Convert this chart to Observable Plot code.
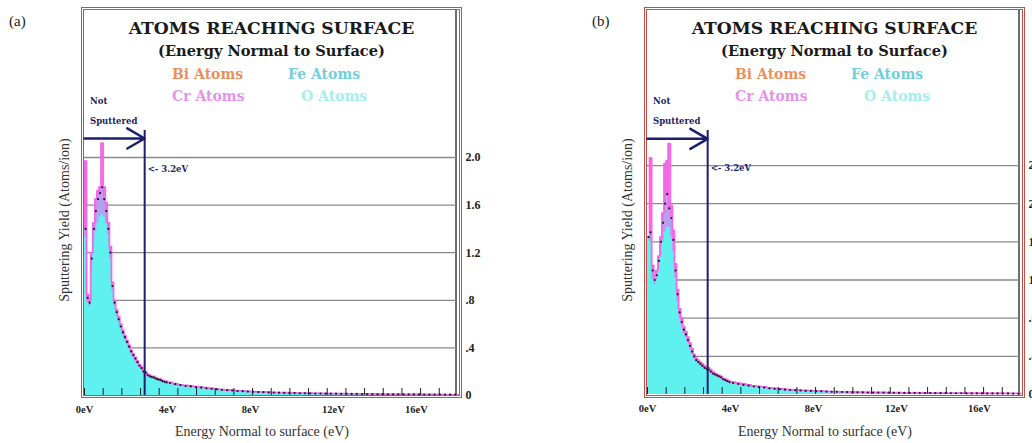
<!DOCTYPE html>
<html><head><meta charset="utf-8">
<script src="https://cdn.jsdelivr.net/npm/d3@7"></script>
<script src="https://cdn.jsdelivr.net/npm/@observablehq/plot@0.6"></script>
<style>
html,body{margin:0;padding:0;background:#fff;width:1032px;height:443px;overflow:hidden;position:relative;}
.panel{position:absolute;top:0;width:563px;height:443px;}
.plab{position:absolute;top:13px;font-family:"Liberation Serif",serif;font-size:15px;color:#222;}
.frame{position:absolute;left:81px;top:7px;width:381px;height:391px;box-sizing:border-box;border:3px double #bf4f4b;}
.rline{position:absolute;left:455px;top:10px;width:1.5px;height:386px;background:#6f6f6f;}
.t{position:absolute;left:81px;width:381px;text-align:center;font-family:"DejaVu Serif",serif;font-weight:bold;white-space:nowrap;}
.leg{position:absolute;font-family:"DejaVu Serif",serif;font-weight:bold;font-size:14px;white-space:nowrap;}
.ns{position:absolute;left:90px;font-family:"DejaVu Serif",serif;font-weight:bold;font-size:8.5px;color:#1d1d66;}
.ylab{position:absolute;left:-28px;top:212px;width:186px;text-align:center;transform:rotate(-90deg);font-family:"Liberation Serif",serif;font-size:14px;color:#333;white-space:nowrap;}
.xlab{position:absolute;left:120px;width:284px;top:424px;text-align:center;font-family:"Liberation Serif",serif;font-size:14px;color:#333;white-space:nowrap;}
.plot{position:absolute;left:84px;top:130px;}
</style>
</head><body>
<script>
// ---------- data ----------
const panelLabels = ["(a)", "(b)"];
const chartTitle = "ATOMS REACHING SURFACE";
const chartSubtitle = "(Energy Normal to Surface)";
const legendNames = ["Bi Atoms", "Fe Atoms", "Cr Atoms", "O Atoms"];
const legendColors = ["#e8915c", "#72cfd9", "#e592ea", "#a4eeee"];
const yAxisTitle = "Sputtering Yield (Atoms/ion)";
const xAxisTitle = "Energy Normal to surface (eV)";
const xTickValues = [0, 4, 8, 12, 16];
const xMinorTicks = [0, 0.9, 1.8, 2.7, 3.6, 4.5, 5.4, 6.3, 7.2, 8.1, 9, 9.9, 10.8, 11.7, 12.6, 13.5, 14.4, 15.3, 16.2, 17.1];
const yTicksA = [0, 0.4, 0.8, 1.2, 1.6, 2.0];
const yTicksB = [0, 0.4, 0.8, 1.2, 1.6, 2.0, 2.4];
const thresholdEv = [2.9];              // drawn position of the 3.2 eV line
const thresholdText = "<- 3.2eV";
const arrowLevelA = [2.16], arrowLevelB = [2.68];
const thresholdLabelLevelA = [1.9], thresholdLabelLevelB = [2.37];

// bin left edges (eV)
const energy = [0,0.1,0.2,0.3,0.4,0.5,0.6,0.7,0.8,0.9,1.0,1.1,1.2,1.3,1.4,1.5,1.6,1.7,1.8,1.9,
  2.0,2.1,2.2,2.3,2.4,2.5,2.6,2.7,2.8,2.9,3.0,3.1,3.2,3.3,3.4,3.5,3.6,3.7,3.8,3.9,
  4,4.25,4.5,4.75,5,5.25,5.5,5.75,6,6.25,6.5,6.75,7,7.25,7.5,7.75,8,8.25,8.5,8.75,
  9,9.25,9.5,9.75,10,10.25,10.5,10.75,11,11.25,11.5,11.75,12,12.25,12.5,12.75,13,13.25,13.5,13.75,
  14,14.25,14.5,14.75,15,15.25,15.5,15.75,16,16.25,16.5,16.75,17,17.25,17.5,17.75];
const energyEnd = 18;

// panel (a)
const crA = [1.97,0.85,0.80,1.20,1.45,1.65,1.72,1.75,2.12,1.75,1.62,1.45,1.25,0.95,0.80,0.72,0.66,0.60,0.55,0.50,
  0.46,0.42,0.38,0.35,0.32,0.29,0.26,0.24,0.21,0.20,0.18,0.17,0.16,0.16,0.15,0.14,0.14,0.13,0.12,0.12,
  0.11,0.10,0.09,0.085,0.08,0.075,0.07,0.065,0.06,0.055,0.05,0.048,0.045,0.04,0.038,0.035,0.033,0.03,0.03,0.028,
  0.026,0.025,0.024,0.023,0.022,0.02,0.02,0.019,0.018,0.018,0.017,0.016,0.016,0.015,0.015,0.014,0.014,0.013,0.013,0.012,
  0.012,0.012,0.011,0.011,0.011,0.01,0.01,0.01,0.01,0.009,0.009,0.009,0.009,0.008,0.008,0.008];
const feA = [1.40,0.82,0.78,1.15,1.40,1.55,1.65,1.70,1.75,1.65,1.55,1.40,1.20,0.92,0.78,0.70,0.64,0.58,0.53,0.49,
  0.45,0.41,0.37,0.34,0.31,0.28,0.25,0.23,0.20,0.19,0.17,0.16,0.155,0.15,0.14,0.135,0.13,0.12,0.115,0.11,
  0.105,0.095,0.088,0.08,0.076,0.07,0.066,0.06,0.056,0.052,0.048,0.045,0.042,0.038,0.036,0.033,0.031,0.029,0.028,0.026,
  0.025,0.024,0.022,0.021,0.02,0.019,0.019,0.018,0.017,0.017,0.016,0.015,0.015,0.014,0.014,0.013,0.013,0.012,0.012,0.011,
  0.011,0.011,0.01,0.01,0.01,0.009,0.009,0.009,0.009,0.008,0.008,0.008,0.008,0.007,0.007,0.007];
const oA = [1.33,0.78,0.75,1.05,1.30,1.38,1.45,1.50,1.52,1.50,1.45,1.35,1.15,0.88,0.75,0.67,0.62,0.56,0.51,0.47,
  0.43,0.39,0.35,0.32,0.29,0.27,0.24,0.22,0.19,0.18,0.16,0.15,0.145,0.14,0.135,0.125,0.12,0.115,0.11,0.10,
  0.095,0.088,0.08,0.074,0.069,0.064,0.06,0.055,0.05,0.047,0.043,0.04,0.038,0.034,0.032,0.03,0.028,0.026,0.025,0.023,
  0.022,0.021,0.02,0.019,0.018,0.017,0.016,0.016,0.015,0.015,0.014,0.013,0.013,0.012,0.012,0.011,0.011,0.011,0.01,0.01,
  0.01,0.009,0.009,0.009,0.008,0.008,0.008,0.008,0.007,0.007,0.007,0.007,0.006,0.006,0.006,0.006];

// panel (b)
const crB = [1.65,2.48,1.35,1.25,1.30,1.45,1.65,1.90,2.42,2.45,2.63,1.98,1.72,1.37,1.10,0.90,0.80,0.71,0.66,0.60,
  0.54,0.48,0.42,0.38,0.36,0.34,0.32,0.30,0.29,0.28,0.26,0.24,0.22,0.21,0.20,0.19,0.17,0.16,0.15,0.14,
  0.13,0.12,0.11,0.10,0.09,0.085,0.08,0.07,0.065,0.06,0.055,0.05,0.048,0.045,0.042,0.04,0.038,0.035,0.033,0.031,
  0.03,0.028,0.027,0.026,0.025,0.024,0.023,0.022,0.021,0.021,0.02,0.019,0.019,0.018,0.018,0.017,0.017,0.016,0.016,0.015,
  0.015,0.015,0.014,0.014,0.014,0.013,0.013,0.013,0.013,0.012,0.012,0.012,0.012,0.012,0.011,0.011];
const feB = [1.65,1.70,1.30,1.20,1.25,1.40,1.60,1.80,2.00,2.10,1.95,1.85,1.62,1.30,1.05,0.86,0.76,0.68,0.63,0.57,
  0.51,0.45,0.40,0.36,0.34,0.32,0.30,0.28,0.27,0.26,0.24,0.22,0.21,0.20,0.19,0.18,0.16,0.15,0.14,0.13,
  0.12,0.11,0.10,0.092,0.084,0.078,0.073,0.065,0.06,0.056,0.051,0.047,0.045,0.042,0.039,0.037,0.035,0.033,0.031,0.029,
  0.028,0.026,0.025,0.024,0.023,0.022,0.021,0.02,0.02,0.019,0.019,0.018,0.017,0.017,0.016,0.016,0.015,0.015,0.015,0.014,
  0.014,0.014,0.013,0.013,0.013,0.012,0.012,0.012,0.012,0.011,0.011,0.011,0.011,0.011,0.01,0.01];
const oB = [1.65,1.60,1.20,1.15,1.20,1.30,1.45,1.60,1.70,1.75,1.75,1.65,1.50,1.22,0.98,0.80,0.72,0.64,0.60,0.54,
  0.48,0.42,0.37,0.34,0.32,0.30,0.28,0.26,0.25,0.24,0.22,0.20,0.19,0.18,0.17,0.16,0.15,0.14,0.13,0.12,
  0.11,0.10,0.092,0.085,0.078,0.072,0.067,0.06,0.055,0.051,0.047,0.044,0.041,0.039,0.036,0.034,0.032,0.03,0.028,0.027,
  0.026,0.024,0.023,0.022,0.021,0.02,0.02,0.019,0.018,0.018,0.017,0.016,0.016,0.015,0.015,0.014,0.014,0.014,0.013,0.013,
  0.013,0.012,0.012,0.012,0.011,0.011,0.011,0.011,0.01,0.01,0.01,0.01,0.01,0.009,0.009,0.009];

// ---------- helpers ----------
function rowsFrom(cr, fe, o) {
  const rows = energy.map((e, i) => ({e, mid: (e + (i + 1 < energy.length ? energy[i + 1] : energyEnd)) / 2, cr: cr[i], fe: fe[i], o: o[i]}));
  const last = rows[rows.length - 1];
  const edge = {...last, e: energyEnd};
  return {rows, stepRows: rows.concat([edge])};
}
function fmtY(d) { return d === 0 ? "0" : d < 1 ? d3.format(".1f")(d).slice(1) : d3.format(".1f")(d); }

function makePlot(cr, fe, o, yTicks, yMax, marginBottom, arrowLevel, labelLevel) {
  const {rows, stepRows} = rowsFrom(cr, fe, o);
  const arrowRows = arrowLevel.map(y => ({x1: 0, x2: thresholdEv[0], y}));
  const labelRows = labelLevel.map(y => ({x: thresholdEv[0], y, t: thresholdText}));
  return Plot.plot({
    width: 402, height: 290,
    marginLeft: 0, marginRight: 30, marginTop: 0, marginBottom,
    x: {domain: [0, 17.93]},
    y: {domain: [0, yMax]},
    style: {background: "transparent", overflow: "visible", fontFamily: "Liberation Serif", fontWeight: "bold", fontSize: "10.5px", color: "#222"},
    marks: [
      Plot.gridY(yTicks.filter(d => d > 0), {stroke: "#8a8a8a", strokeOpacity: 1, strokeWidth: 1.3}),
      Plot.areaY(stepRows, {x: "e", y: "cr", curve: "step-after", fill: "#f468e8"}),
      Plot.areaY(stepRows, {x: "e", y: "fe", curve: "step-after", fill: "#b3a2ef"}),
      Plot.areaY(stepRows, {x: "e", y: "o", curve: "step-after", fill: "#5ff0f0"}),
      Plot.lineY(stepRows, {x: "e", y: "cr", curve: "step-after", stroke: "#f468e8", strokeWidth: 1.8}),
      Plot.dot(rows, {x: "mid", y: "fe", r: 1.1, fill: "#1a1a2a", stroke: "none"}),
      Plot.ruleX(thresholdEv, {stroke: "#1c1f6e", strokeWidth: 2}),
      Plot.arrow(arrowRows, {x1: "x1", x2: "x2", y1: "y", y2: "y", stroke: "#1c1f6e", strokeWidth: 2.5, headLength: 16, headAngle: 60}),
      Plot.text(labelRows, {x: "x", y: "y", text: "t", textAnchor: "start", dx: 3, fill: "#1c1f6e", fontSize: 8.5, fontFamily: "DejaVu Serif", fontWeight: "bold"}),
      Plot.axisX({ticks: xMinorTicks, tickSize: 7, dy: -7, tickFormat: () => "", stroke: "#222"}),
      Plot.axisX({ticks: xTickValues, tickSize: 0, tickPadding: 10, tickFormat: d => d + "eV", fontSize: 10.5}),
      Plot.axisY({anchor: "right", ticks: yTicks, tickSize: 0, tickPadding: 9, tickFormat: fmtY, fontSize: 12})
    ]
  });
}

function buildPanel(idx, left, plotEl) {
  const p = document.createElement("div");
  p.className = "panel";
  p.style.left = left + "px";
  p.innerHTML = `
    <div class="plab" style="left:${idx === 0 ? 9 : 29}px">${panelLabels[idx]}</div>
    <div class="ylab">${yAxisTitle}</div>
    <div class="frame"></div>
    <div class="rline"></div>
    <div class="t" style="top:18px;font-size:17.2px;color:#1a1a1a">${chartTitle}</div>
    <div class="t" style="top:42px;font-size:14.6px;color:#1a1a1a">${chartSubtitle}</div>
    <div class="leg" style="left:172px;top:66px;color:${legendColors[0]}">${legendNames[0]}</div>
    <div class="leg" style="left:288px;top:66px;color:${legendColors[1]}">${legendNames[1]}</div>
    <div class="leg" style="left:172px;top:88px;color:${legendColors[2]}">${legendNames[2]}</div>
    <div class="leg" style="left:301px;top:88px;color:${legendColors[3]}">${legendNames[3]}</div>
    <div class="ns" style="top:96px">Not</div>
    <div class="ns" style="top:116px">Sputtered</div>
    <div class="xlab">${xAxisTitle}</div>`;
  const holder = document.createElement("div");
  holder.className = "plot";
  holder.appendChild(plotEl);
  p.appendChild(holder);
  document.body.appendChild(p);
}

buildPanel(0, 0, makePlot(crA, feA, oA, yTicksA, 265 / 119, 25, arrowLevelA, thresholdLabelLevelA));
buildPanel(1, 563, makePlot(crB, feB, oB, yTicksB, 264 / 95.4, 26, arrowLevelB, thresholdLabelLevelB));
</script>
</body></html>
